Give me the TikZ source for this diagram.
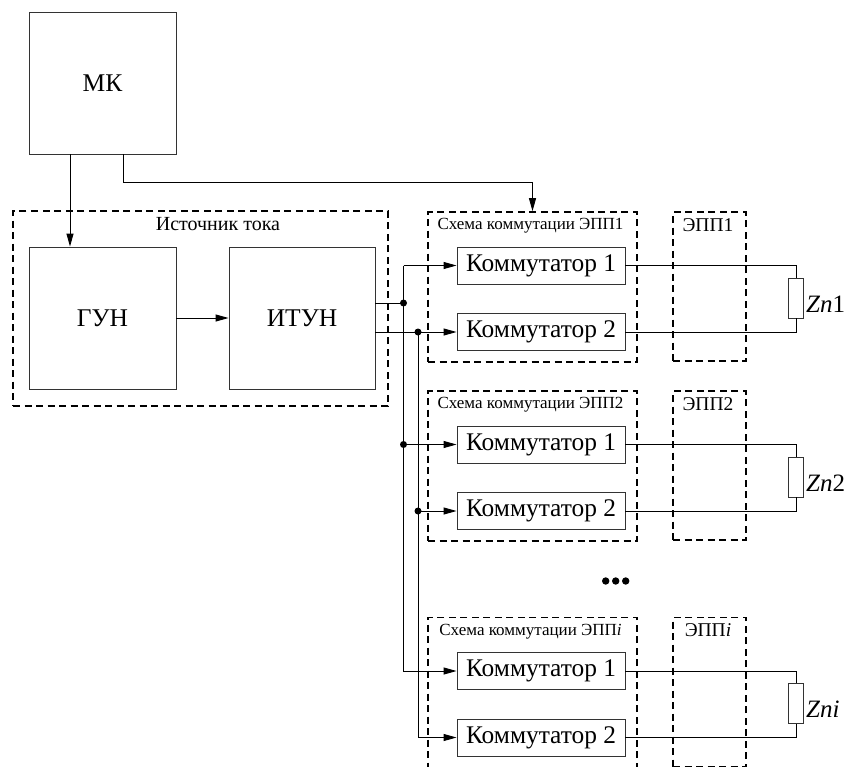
\documentclass[tikz,border=0pt]{standalone}
\usepackage{fontspec}
\setmainfont{Liberation Serif}
\newfontfamily\tnr{Liberation Serif}
\usetikzlibrary{arrows.meta,positioning}

\begin{document}
\begin{tikzpicture}[x=1pt,y=-1pt,font=\tnr,
  blk/.style={draw=black!80,line width=0.9pt,minimum width=147pt,minimum height=142pt,font=\tnr\fontsize{25.5}{29}\selectfont},
  komm/.style={draw=black!80,line width=0.9pt,minimum width=168pt,minimum height=37pt,inner sep=0pt,font=\tnr\fontsize{25.4}{29}\selectfont},
  grp/.style={draw,line width=1.6pt,dash pattern=on 7pt off 4.5pt},
  glab/.style={anchor=base,inner sep=0pt,font=\tnr\fontsize{17}{20}\selectfont},
  elab/.style={anchor=base,inner sep=0pt,font=\tnr\fontsize{19.5}{22}\selectfont},
  res/.style={draw=black!80,line width=0.9pt,minimum width=15pt,minimum height=40pt,inner sep=0pt},
  zlab/.style={anchor=west,inner sep=2pt,font=\tnr\fontsize{25}{29}\selectfont},
  wire/.style={line width=0.9pt},
  arr/.style={wire,-{Triangle[length=13pt,width=7pt]}}]
\useasboundingbox (0,0) rectangle (846,766);

\node[blk] (mk) at (102.5,83) {МК};
\node[grp,minimum width=375pt,minimum height=195pt] (src) at (200.5,308.5) {};
\node[glab,font=\tnr\fontsize{20}{23}\selectfont] (srcl) at (218,230.5) {Источник тока};
\node[blk] (gun) at (102.5,318) {ГУН};
\node[blk,minimum width=146pt] (itun) at (302,318) {ИТУН};

\foreach \n/\dy/\lab in {1/0/1,2/179/2,3/405.5/\textit{i}} {
    \node[komm] (ka\n) at (541,265.5+\dy) {Коммутатор 1};
    \node[komm] (kb\n) at (541,332+\dy) {Коммутатор 2};
    \node[grp,minimum width=209pt,minimum height=150pt] (sch\n) at (532.5,287+\dy) {};
    \node[grp,minimum width=73pt,minimum height=149pt] (epp\n) at (709.5,286.5+\dy) {};
    \node[glab] (schl\n) at (530.5,229.5+\dy) {Схема коммутации ЭПП\lab};
    \node[elab] (eppl\n) at (708,231+\dy) {ЭПП\lab};
    \node[res] (r\n) at (796,298+\dy) {};
    \node[zlab] (zl\n) at ([yshift=-6pt]r\n.east) {\textit{Zn}\lab};
    \draw[wire] (ka\n.east) -| (r\n.north);
    \draw[wire] (kb\n.east) -| (r\n.south);
}

\draw[arr] ([xshift=-32.5pt]mk.south) -- ([xshift=-32.5pt]gun.north);
\draw[arr] ([xshift=20.5pt]mk.south) -- ++(0,28) -| (sch1.north);
\draw[arr] (gun) -- (itun);

\coordinate (o1) at ([yshift=15pt]itun.east);
\coordinate (o2) at ([yshift=-14pt]itun.east);
\coordinate (busa) at (403.5,0);
\coordinate (busb) at (418,0);
\draw[wire] (o1) -- (o1 -| busa);
\draw[arr] (busa |- ka1.west) -- (ka1.west);
\draw[arr] (busa |- ka1.west) |- (ka3.west);
\draw[arr] (busa |- ka2.west) -- (ka2.west);
\draw[arr] (o2) -- (kb1.west);
\draw[arr] (busb |- kb1.west) |- (kb3.west);
\draw[arr] (busb |- kb2.west) -- (kb2.west);
\foreach \p in {(o1 -| busa),(busa |- ka2.west),(busb |- kb1.west),(busb |- kb2.west)}
    \fill \p circle (3.5pt);

\foreach \x in {605.7,615.7,625.7}
    \fill (\x,581) circle (3.7pt);
\end{tikzpicture}
\end{document}
